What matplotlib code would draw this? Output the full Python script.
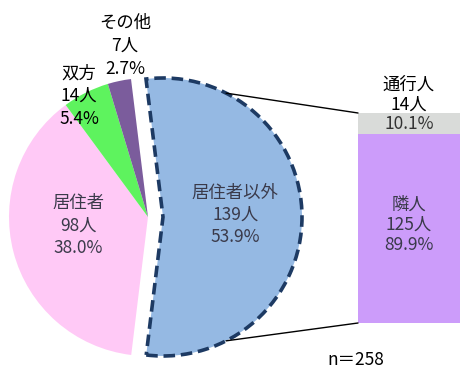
import numpy as np
import matplotlib
matplotlib.use("Agg")
import matplotlib.pyplot as plt
from matplotlib.patches import ConnectionPatch

plt.rcParams['font.family'] = ['Noto Sans CJK JP', 'DejaVu Sans']

# main breakdown
pie_labels = ['居住者以外', '居住者', '双方', 'その他']
pie_counts = [139, 98, 14, 7]
pie_pcts = [53.9, 38.0, 5.4, 2.7]
pie_colors = ['#95b9e3', '#ffc9f6', '#5ef35e', '#7b5c9c']

# breakdown of 居住者以外
bar_labels = ['隣人', '通行人']
bar_counts = [125, 14]
bar_pcts = [89.9, 10.1]
bar_colors = ['#cc9cfa', '#d9dbd9']

total = 258

W, H = 462, 372
fig = plt.figure(figsize=(W / 100, H / 100), dpi=100)
ax = fig.add_axes([0, 0, 1, 1])

cx, cy, r = 148, 155, 139
# first slice centred on the right-hand side
start = pie_pcts[0] / 100 * 360 / 2
wedges, _ = ax.pie(pie_counts, colors=pie_colors, startangle=start,
                   counterclock=False, center=(cx, cy), radius=r,
                   explode=[15, 0, 0, 0], frame=True,
                   wedgeprops=dict(linewidth=0))
ax.set_xlim(0, W)
ax.set_ylim(0, H)
ax.set_aspect('equal')
ax.axis('off')

blue = wedges[0]
blue.set_edgecolor('#1d3a63')
blue.set_linewidth(2.6)
blue.set_linestyle((0, (3.2, 1.6)))

txt = '#3a3a4a'
fs = 12.5
# labels inside the two large slices
nudge = [2, 10]
for w, lab, n, p, dy in zip(wedges[:2], pie_labels[:2], pie_counts[:2], pie_pcts[:2], nudge):
    mid = np.deg2rad((w.theta1 + w.theta2) / 2)
    wx, wy = w.center
    tx = wx + 0.52 * r * np.cos(mid)
    ty = wy + 0.52 * r * np.sin(mid) + dy
    ax.text(tx, ty, f'{lab}\n{n}人\n{p:.1f}%', ha='center', va='center',
            fontsize=fs, color=txt, linespacing=1.3)

# small slices labelled outside
outside_pos = {2: (79, 276), 3: (125, 326)}
for i, (px, py) in outside_pos.items():
    ax.text(px, py, f'{pie_labels[i]}\n{pie_counts[i]}人\n{pie_pcts[i]:.1f}%',
            ha='center', va='center', fontsize=fs, color='black', linespacing=1.35)

# stacked bar
bx = fig.add_axes([358 / W, 49 / H, 102 / W, 210 / H])
bottom = 0
for n, c in zip(bar_counts, bar_colors):
    bx.bar(0, n, bottom=bottom, width=1, color=c, linewidth=0)
    bottom += n
bx.set_xlim(-0.5, 0.5)
bx.set_ylim(0, sum(bar_counts))
bx.axis('off')

bx.text(0, bar_counts[0] / 2 + 2.5, f'{bar_labels[0]}\n{bar_counts[0]}人\n{bar_pcts[0]:.1f}%',
        ha='center', va='center', fontsize=fs, color=txt, linespacing=1.15)
bx.text(0, bar_counts[0] + bar_counts[1] / 2, f'{bar_pcts[1]:.1f}%',
        ha='center', va='center', fontsize=fs, color='#333333')
bx.text(0, sum(bar_counts) + 12, f'{bar_labels[1]}\n{bar_counts[1]}人',
        ha='center', va='center', fontsize=fs, color='black', linespacing=1.1)

# lines from the exploded slice to the bar
bcx, bcy = blue.center
for ang, yfrac in [(63, 1), (-63, 0)]:
    a = np.deg2rad(ang)
    p0 = (bcx + r * np.cos(a), bcy + r * np.sin(a))
    con = ConnectionPatch(xyA=p0, coordsA=ax.transData, xyB=(0, yfrac),
                          coordsB=bx.transAxes, color='black', linewidth=1)
    fig.add_artist(con)

ax.text(356, 12, f'n＝{total}', ha='center', va='center', fontsize=fs, color='black')

fig.savefig('out.png', dpi=100)
